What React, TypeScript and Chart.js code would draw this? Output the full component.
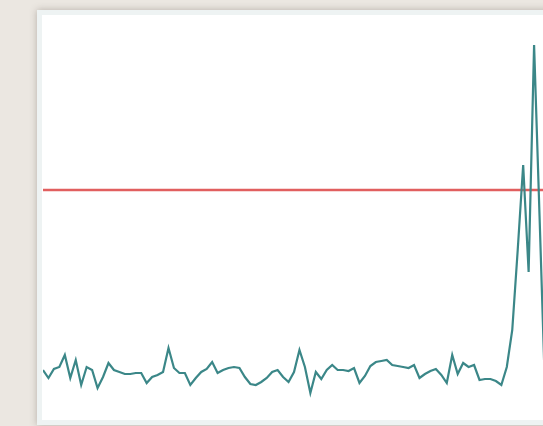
import React, { useEffect, useRef } from "react";
import { Chart, registerables } from "chart.js";

Chart.register(...registerables);

// Measured series (arbitrary units, 0–100 scale)
const seriesValues: number[] = [
  12.5, 10.5, 12.75, 13.25, 16.25, 10.5, 15, 8.75, 13.25, 12.5,
  8, 10.75, 14.25, 12.5, 12, 11.5, 11.5, 11.75, 11.75, 9.25,
  10.75, 11.25, 12, 18, 13, 11.75, 11.75, 8.75, 10.5, 12,
  12.75, 14.5, 11.75, 12.5, 13, 13.25, 13, 10.75, 9, 8.75,
  9.5, 10.5, 12, 12.5, 10.75, 9.5, 12, 17.5, 13.25, 6.75,
  12, 10.25, 12.5, 13.75, 12.5, 12.5, 12.25, 13, 9.25, 11,
  13.5, 14.5, 14.75, 15, 13.75, 13.5, 13.25, 13, 13.75, 10.5,
  11.5, 12.25, 12.75, 11.25, 9.25, 16.25, 11.5, 14.25, 13.25, 13.75,
  10, 10.25, 10.25, 9.75, 8.75, 13.25, 22.5, 42.5, 63.75, 37,
  93.75, 51, 7.5,
];
const categories: string[] = seriesValues.map((_, i) => String(i + 1));
const thresholdValue = 57.5;
const yMin = 0;
const yMax = 100;

export default function App() {
  const canvasRef = useRef<HTMLCanvasElement | null>(null);

  useEffect(() => {
    if (!canvasRef.current) return;
    const chart = new Chart(canvasRef.current, {
      type: "line",
      data: {
        labels: categories,
        datasets: [
          {
            data: seriesValues,
            borderColor: "#3b8788",
            borderWidth: 2.2,
            pointRadius: 0,
            tension: 0,
            fill: false,
            order: 1,
          },
          {
            data: categories.map(() => thresholdValue),
            borderColor: "#e15f5f",
            borderWidth: 2.6,
            pointRadius: 0,
            tension: 0,
            fill: false,
            order: 2,
          },
        ],
      },
      options: {
        animation: false,
        responsive: false,
        maintainAspectRatio: false,
        layout: { padding: 0 },
        plugins: { legend: { display: false }, tooltip: { enabled: false } },
        scales: {
          x: { display: false, offset: false },
          y: { display: false, min: yMin, max: yMax },
        },
      },
    });
    return () => chart.destroy();
  }, []);

  return (
    <div
      style={{
        position: "fixed",
        inset: 0,
        overflow: "hidden",
        background: "#ebe7e1",
      }}
    >
      <div
        style={{
          position: "absolute",
          left: 37,
          top: 10,
          width: 640,
          height: 415,
          boxSizing: "border-box",
          background: "#ffffff",
          border: "5px solid #eef3f3",
          boxShadow: "0 0 7px rgba(80,70,60,0.35)",
        }}
      />
      <canvas
        ref={canvasRef}
        width={502}
        height={400}
        style={{
          position: "absolute",
          left: 43,
          top: 20,
          width: 502,
          height: 400,
        }}
      />
    </div>
  );
}
